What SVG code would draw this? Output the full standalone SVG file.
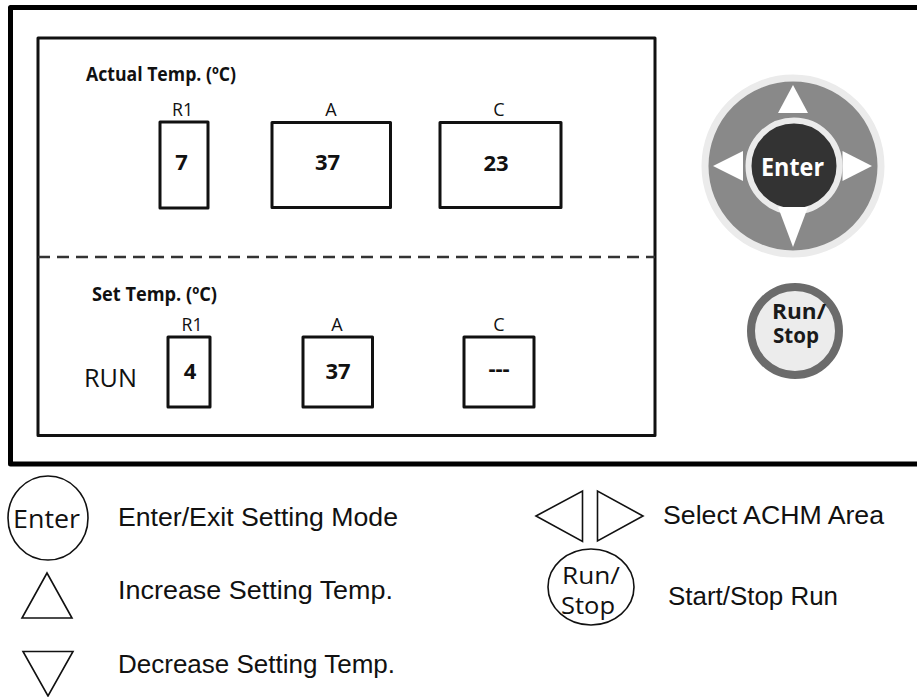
<svg xmlns="http://www.w3.org/2000/svg" width="917" height="697" viewBox="0 0 917 697">
<style>
.lbl{font-family:"Open Sans","Noto Sans",sans-serif;font-size:18px;fill:#111;text-anchor:middle}
.hd{font-family:"Open Sans","Noto Sans",sans-serif;font-size:20px;font-weight:bold;fill:#111}
.val{font-family:"Open Sans","Noto Sans",sans-serif;font-size:22px;font-weight:bold;fill:#111;text-anchor:middle}
.box{fill:#fff;stroke:#111;stroke-width:3;stroke-linejoin:round}
.leg{font-family:"Liberation Sans",Arial,sans-serif;font-size:25px;fill:#111}
.ol{fill:none;stroke:#111;stroke-width:1.6;stroke-linejoin:miter}
.sans{font-family:"Open Sans","Noto Sans",sans-serif}
</style>
<rect width="917" height="697" fill="#fff"/>
<g id="panel">
<path d="M917,7.5 H10.5 V464 H917" fill="none" stroke="#000" stroke-width="5" stroke-linejoin="round"/>
<rect x="38" y="38" width="617" height="397.5" fill="none" stroke="#111" stroke-width="3" stroke-linejoin="round"/>
<line x1="38" y1="257" x2="655" y2="257" stroke="#333" stroke-width="2.5" stroke-dasharray="12,7"/>
</g>
<g id="actual">
<text class="hd" x="86" y="81" textLength="150" lengthAdjust="spacingAndGlyphs">Actual Temp. (ºC)</text>
</g>
<g id="actual-r1">
<text class="lbl" x="182.5" y="116" textLength="21" lengthAdjust="spacingAndGlyphs">R1</text>
<rect class="box" x="160" y="122" width="48" height="86"/>
<text class="val" x="181.5" y="169.5">7</text>
</g>
<g id="actual-a">
<text class="lbl" x="331" y="116">A</text>
<rect class="box" x="272" y="122.5" width="118.5" height="85"/>
<text class="val" x="327.5" y="170">37</text>
</g>
<g id="actual-c">
<text class="lbl" x="499" y="116">C</text>
<rect class="box" x="440" y="122.5" width="121" height="85"/>
<text class="val" x="496" y="171">23</text>
</g>
<g id="set">
<text class="hd" x="92" y="301" textLength="125" lengthAdjust="spacingAndGlyphs">Set Temp. (ºC)</text>
<text class="sans" x="84" y="387" font-size="26" fill="#111" textLength="53" lengthAdjust="spacingAndGlyphs">RUN</text>
</g>
<g id="set-r1">
<text class="lbl" x="192" y="330.5" textLength="21" lengthAdjust="spacingAndGlyphs">R1</text>
<rect class="box" x="168" y="337" width="42" height="70"/>
<text class="val" x="190" y="378.5">4</text>
</g>
<g id="set-a">
<text class="lbl" x="337" y="330.5">A</text>
<rect class="box" x="303" y="337" width="69.5" height="70"/>
<text class="val" x="338" y="378.5">37</text>
</g>
<g id="set-c">
<text class="lbl" x="499" y="330.5">C</text>
<rect class="box" x="464" y="337" width="70" height="70"/>
<text class="val" x="499" y="376">---</text>
</g>
<g id="dpad">
<circle cx="793" cy="166" r="88" fill="#898989" stroke="#ebebeb" stroke-width="7"/>
<circle cx="794" cy="166" r="45.5" fill="#333" stroke="#ebebeb" stroke-width="6"/>
<polygon points="793,85 778,113 808,113" fill="#fff"/>
<polygon points="793,247 778,207 808,207" fill="#fff"/>
<polygon points="713,166 743,151 743,181" fill="#fff"/>
<polygon points="872,166 842.5,151 842.5,181" fill="#fff"/>
<text class="sans" x="761" y="176" font-size="25" font-weight="bold" fill="#fff" textLength="63" lengthAdjust="spacingAndGlyphs">Enter</text>
</g>
<g id="runstop">
<circle cx="795" cy="331" r="44" fill="#ececec" stroke="#6b6b6b" stroke-width="8"/>
<text class="sans" x="772" y="318.5" font-size="21" font-weight="bold" fill="#1a1a1a" textLength="54" lengthAdjust="spacingAndGlyphs">Run/</text>
<text class="sans" x="773" y="342.5" font-size="21" font-weight="bold" fill="#1a1a1a" textLength="46" lengthAdjust="spacingAndGlyphs">Stop</text>
</g>
<g id="legend-enter">
<ellipse class="ol" cx="48" cy="518" rx="40" ry="42"/>
<text class="sans" x="13" y="528" font-size="26" fill="#111" textLength="67" lengthAdjust="spacingAndGlyphs">Enter</text>
<text class="leg" x="118" y="526" textLength="280" lengthAdjust="spacingAndGlyphs">Enter/Exit Setting Mode</text>
</g>
<g id="legend-up">
<polygon class="ol" points="47,573 22,618 72,618"/>
<text class="leg" x="118" y="599" textLength="275" lengthAdjust="spacingAndGlyphs">Increase Setting Temp.</text>
</g>
<g id="legend-down">
<polygon class="ol" points="23,651.5 73,651.5 48,696"/>
<text class="leg" x="118" y="672.5" textLength="277" lengthAdjust="spacingAndGlyphs">Decrease Setting Temp.</text>
</g>
<g id="legend-lr">
<polygon class="ol" points="536,516 582.5,491 582.5,541.5"/>
<polygon class="ol" points="597.5,491 597.5,541 643,516"/>
<text class="leg" x="663" y="524" textLength="221" lengthAdjust="spacingAndGlyphs">Select ACHM Area</text>
</g>
<g id="legend-runstop">
<ellipse class="ol" cx="591" cy="587" rx="43" ry="38"/>
<text class="sans" x="562" y="584" font-size="23" fill="#111" textLength="58" lengthAdjust="spacingAndGlyphs">Run/</text>
<text class="sans" x="561" y="614" font-size="23" fill="#111" textLength="54" lengthAdjust="spacingAndGlyphs">Stop</text>
<text class="leg" x="668" y="605" textLength="170" lengthAdjust="spacingAndGlyphs">Start/Stop Run</text>
</g>
</svg>
